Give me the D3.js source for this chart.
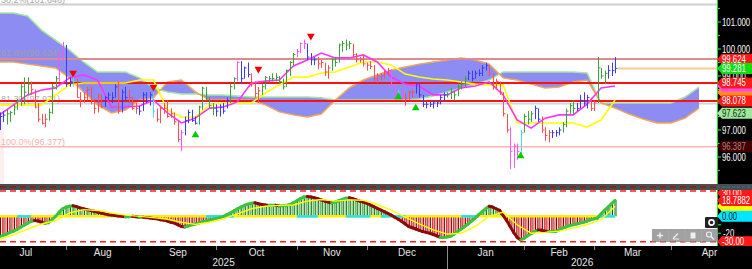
<!DOCTYPE html>
<html>
<head>
<meta charset="utf-8">
<script src="https://cdn.jsdelivr.net/npm/d3@7"></script>
<style>
  body { margin: 0; background: #fff; }
  svg { display: block; font-family: "Liberation Sans", Arial, sans-serif; }
</style>
</head>
<body>
<script>
// ---------------- data ----------------
// daily bars, first bar = Mon 7 Jul 2025 (weekdays only)
var highs = [97.65,97.7,97.75,97.7,97.95,98.15,98.7,98.95,98.95,98.8,
  98.5,98.0,97.6,97.6,97.8,98.7,99.0,99.9,100.26,100.15,
  98.95,99.1,98.9,98.4,98.4,98.6,98.6,98.15,98.35,98.3,
  98.25,98.4,98.4,98.7,98.8,98.5,98.6,98.5,98.2,98.0,
  97.9,98.4,98.4,98.4,98.4,97.8,97.9,98.0,98.1,97.8,
  97.65,97.35,97.0,97.5,97.75,97.75,97.5,97.9,98.6,98.6,
  98.2,98.0,97.95,97.95,98.0,98.2,98.7,98.95,99.55,99.55,
  99.35,99.5,99.1,98.8,98.6,98.7,99.0,99.0,99.1,99.1,
  99.0,98.9,99.25,99.55,99.85,100.0,100.25,100.35,100.2,99.85,
  99.7,99.7,99.6,99.5,99.4,99.65,99.7,100.2,100.3,100.35,
  100.3,100.2,99.85,99.7,99.8,99.5,99.55,99.4,99.1,99.1,
  99.2,99.3,99.25,98.7,98.5,98.5,98.35,98.45,98.5,98.75,
  98.7,98.3,98.05,98.05,98.1,98.1,98.3,98.4,98.4,98.55,
  98.45,98.7,98.8,99.0,99.2,99.2,99.2,99.25,99.4,99.5,
  99.4,99.1,98.9,98.8,98.4,97.6,97.1,96.5,96.5,97.0,
  97.6,97.7,97.7,97.9,97.8,97.5,97.1,97.0,97.0,97.0,
  97.1,97.3,97.8,98.0,98.1,98.0,98.3,98.4,98.3,98.2,
  98.1,99.7,99.3,99.2,99.4,99.5,99.7];
var lows = [97.0,97.3,97.2,97.3,97.55,97.75,97.9,97.95,98.3,98.3,
  97.8,97.3,97.2,97.1,97.35,97.6,98.5,98.8,99.6,98.6,
  98.6,98.6,98.2,97.85,98.0,98.1,97.95,97.6,97.65,97.8,
  97.85,98.1,98.0,98.2,97.6,97.65,98.1,98.0,97.75,97.6,
  97.55,97.7,98.0,97.9,97.45,97.3,97.25,97.6,97.45,97.45,
  97.2,96.55,96.22,96.8,97.25,97.3,97.2,97.2,97.75,98.1,
  97.8,97.55,97.5,97.5,97.6,97.8,98.0,98.5,98.8,98.7,
  98.9,98.95,98.6,98.2,98.0,98.3,98.5,98.75,98.8,98.8,
  98.7,98.5,98.6,99.0,99.4,99.7,99.85,100.0,99.6,99.4,
  99.4,99.25,99.3,99.0,98.9,99.2,99.35,99.5,99.9,99.95,
  100.0,99.7,99.5,99.5,99.35,99.2,99.25,98.8,98.75,98.85,
  98.9,99.0,98.6,98.15,98.2,98.1,97.9,98.1,98.2,98.35,
  98.2,97.85,97.8,97.85,97.8,97.85,97.95,98.1,98.2,98.15,
  98.1,98.25,98.5,98.6,98.85,98.8,98.9,99.0,99.0,99.2,
  99.0,98.5,98.5,98.3,97.5,96.9,95.55,95.6,95.9,96.1,
  96.9,97.2,97.3,97.4,97.3,96.9,96.6,96.55,96.7,96.75,
  96.8,96.9,97.1,97.6,97.6,97.7,97.8,97.9,97.8,97.7,
  97.7,98.0,98.9,98.7,98.9,99.0,99.1];
var closes = [97.5,97.55,97.6,97.65,97.85,98.1,98.6,98.4,98.7,98.5,
  97.85,97.4,97.25,97.4,97.65,98.6,98.9,99.8,99.95,98.7,
  98.8,98.8,98.2,98.1,98.2,98.5,98.1,97.8,98.3,97.85,
  98.2,98.3,98.2,98.6,97.7,98.4,98.2,98.2,97.8,97.8,
  97.7,98.3,98.1,98.3,97.7,97.4,97.8,97.8,97.5,97.6,
  97.3,96.65,96.9,97.35,97.65,97.35,97.25,97.85,98.55,98.15,
  97.9,97.8,97.7,97.85,97.7,98.1,98.6,98.9,99.5,98.9,
  99.3,99.05,98.7,98.35,98.45,98.6,98.95,98.9,98.9,98.95,
  98.8,98.6,99.2,99.5,99.8,99.9,100.2,100.2,99.7,99.6,
  99.6,99.45,99.5,99.15,99.3,99.6,99.5,100.15,100.2,100.15,
  100.2,99.8,99.6,99.6,99.45,99.4,99.35,98.9,99.0,99.0,
  99.1,99.2,98.65,98.3,98.4,98.3,98.15,98.4,98.4,98.7,
  98.3,97.95,97.95,97.95,98.0,98.0,98.2,98.3,98.3,98.4,
  98.3,98.6,98.7,98.9,99.1,98.9,99.1,99.1,99.3,99.4,
  99.1,98.6,98.8,98.4,97.6,97.0,96.2,96.4,96.2,96.9,
  97.5,97.4,97.6,97.8,97.4,97.0,96.8,96.9,96.9,96.9,
  97.0,97.2,97.7,97.9,97.8,97.8,98.1,98.0,98.2,97.8,
  98.0,99.3,99.0,99.1,99.2,99.2,99.28];
// bar colour codes: g green, r red, b blue, m magenta, c cyan
var barColors = "bbgggggggr" + "rrrrgggmmb" + "bcrrrrrrrr" + "bbbbrbbrrr" + "bbbbcrrrrr" +
  "rrmbbbbggg" + "ggbbbbggmb" + "bbrrrggggg" + "gggggmmmbb" + "brrrrggggg" +
  "grrrrrrrrr" + "rrmmcmrrrb" + "bbbbbbbbgg" + "ggggbbbbbb" + "rrrrrrmmmc" +
  "gggbbrrrbb" + "bggggbbbbr" + "rgggbbb";

// ichimoku lines, one value every 4 bars
var tenkan = [97.56,97.93,98.3,98.48,98.56,98.93,99.04,98.85,97.85,97.85,97.89,98.11,97.63,97.26,97.44,
  97.81,97.85,98.04,98.74,98.81,98.85,99.37,99.59,99.85,99.67,99.67,99.78,99.52,98.96,98.7,
  98.63,98.3,98.3,98.56,98.63,98.78,98.3,97.37,97.07,97.44,97.56,97.56,97.96,98.56,98.63];
var kijun = [97.93,97.93,97.93,97.93,98.3,98.67,98.74,98.74,98.74,98.74,98.85,98.85,97.74,97.48,97.48,
  97.93,98.0,98.0,98.0,98.37,98.67,98.96,98.96,99.11,99.15,99.33,99.52,99.52,99.41,99.07,
  98.96,98.89,98.85,98.78,98.7,98.67,98.67,97.26,97.26,97.26,97.26,97.26,97.11,97.37,98.11];
// cloud, one value every 4 bars (runs 26 bars past the last price)
var spanA = [101.33,101.33,101.22,100.70,100.33,99.96,99.52,99.15,99.15,99.15,98.93,98.56,98.41,98.33,98.33,
  98.30,98.30,98.26,98.22,98.22,98.22,98.22,98.22,98.19,98.11,98.11,98.11,98.11,98.11,98.11,
  98.15,98.26,98.41,98.56,98.70,98.85,99.15,99.15,99.15,99.15,99.15,99.15,99.11,
  98.0,98.0,98.0,98.0,98.0,98.0,98.22,98.59];
var spanB = [99.52,99.52,99.44,99.37,99.30,98.93,98.41,97.93,97.63,97.74,98.11,98.19,98.78,98.85,98.41,
  98.11,98.11,98.11,98.11,97.93,97.67,97.56,97.48,97.59,98.11,98.56,98.85,99.04,99.22,99.33,
  99.44,99.52,99.59,99.67,99.59,99.44,98.93,98.85,98.70,98.56,98.59,98.78,98.85,
  98.0,97.81,97.59,97.41,97.26,97.26,97.44,97.81];

// oscillator, one value per bar
var osc = [-24,-22.5,-21,-19,-17.5,-15.5,-13,-10.5,-8,-6,
  -5,-5.5,-7,-8,-7.5,-4,0,5,9,11,
  12,12.5,11.5,10,9,8,7,6,5,4,
  3,2,1.5,1,0.5,0,-0.5,-0.5,0,-0.5,
  -1,-1,-1.5,-2,-2.5,-3,-4,-4.5,-5.5,-7,
  -8,-10,-12,-12.5,-11.5,-10,-9,-8,-6.5,-5.5,
  -4.5,-3.5,-2.5,-1.5,0,2,4,6.5,9,11,
  13,14.5,15.5,16,15,14,13.5,13,13,13,
  12.5,12.5,13,14,16,18.5,21,23,23.5,23,
  22,21,19.5,18,17,16,17,18.5,20,21.5,
  22,21,19.5,18,17,15.5,13.5,11.5,9.5,7.5,
  5.5,3.5,1.5,-1,-3.5,-6,-9,-12,-13.5,-15,
  -16.5,-18,-19,-20,-21.5,-23,-25,-25,-24.5,-23.5,
  -21,-18,-15,-12,-9,-5.5,-2,2,5.5,9,
  12,11,9,7,1,-5,-12,-19,-25,-28,
  -26,-23,-20.5,-18,-16,-16.5,-17.5,-18,-18,-18,
  -16,-14,-12.5,-11,-10,-9,-8,-7,-5.5,-4,
  -3,-2,3,7,11,15,18.8];
// signal line, one value every 4 bars
var signal = [-27,-22,-15,-9,-5,4,8,7,4,1.5,0,-1.5,-3.5,-7,-9.5,-7,-3,3,9,12,13,13.5,18,20,18,
  19.5,19,14,7,-1,-9,-16,-21,-20,-12,0,5,-10,-20,-19,-17.5,-14,-10,-4,12];
// bar ranges where the zero line is drawn cyan
var zeroCyan = [[5,9],[59,67],[85,91],[99,106],[109,116],[132,137],[171,176]];

// signal arrows: [bar, price]
var sellMarks = [[21,99.11],[44,98.59],[74,99.26],[89,100.48]];
var buyMarks = [[56,96.81],[114,98.22],[119,97.81],[149,96.04]];

// horizontal levels
var fibLevels = [101.646, 97.971, 96.377];
var fibLabels = ["38.2%(101.646)", "81.3%(97.971)", "100.0%(96.377)"];
var fib618 = 99.634;
var redLevels = [98.745, 98.078];
var lastPrice = 99.281;

var STEP = 4;

// ---------------- layout ----------------
var W = 752, H = 269, plotR = 717;
var svg = d3.select("body").append("svg").attr("width", W).attr("height", H);

// trading-day calendar (weekdays) from 1 Jul 2025, bars start 4 days later
var dates = [];
var dd = new Date(2025, 6, 1);
while (dates.length < 240) {
  if (dd.getDay() % 6 !== 0) dates.push(new Date(dd));
  dd.setDate(dd.getDate() + 1);
}
var OFF = 4;

var x = d3.scaleLinear().domain([0, 205]).range([-0.4, -0.4 + 3.497 * 205]);
var y = d3.scaleLinear().domain([95, 102]).range([184, -5]);
var yo = d3.scaleLinear().domain([-30, 30]).range([241.7, 191]);

var defs = svg.append("defs");
defs.append("clipPath").attr("id", "clipMain").append("rect")
  .attr("x", 0).attr("y", 0).attr("width", plotR).attr("height", 184);
defs.append("clipPath").attr("id", "clipLow").append("rect")
  .attr("x", 0).attr("y", 190).attr("width", plotR).attr("height", 56);

svg.append("rect").attr("width", W).attr("height", H).attr("fill", "#fff");

var main = svg.append("g").attr("clip-path", "url(#clipMain)");

// faint zone at the left edge
main.append("rect").attr("x", 0).attr("y", y(fibLevels[1])).attr("width", 4)
  .attr("height", 184 - y(fibLevels[1])).attr("fill", "#fff0f0");

// fib lines + labels
var fibColors = ["#cfcfcf", "#d4d4d4", "#ffb4b4"];
var fibText = ["#a8a8a8", "#b0b0b0", "#f4b0b0"];
fibLevels.forEach(function(v, k) {
  main.append("line").attr("x1", 0).attr("x2", plotR)
    .attr("y1", y(v)).attr("y2", y(v))
    .attr("stroke", fibColors[k]).attr("stroke-width", k === 0 ? 2 : 1.5);
  main.append("text").attr("x", 1).attr("y", y(v) - 2)
    .attr("font-size", 9).attr("fill", fibText[k]).text(fibLabels[k]);
});

// ichimoku cloud
var cloud = d3.area()
  .x(function(d, k) { return x(k * STEP); })
  .y0(function(d, k) { return y(spanA[k]); })
  .y1(function(d, k) { return y(spanB[k]); });
main.append("path").datum(spanA).attr("d", cloud).attr("fill", "#8c8cf2");
var lineAt = function(arr) {
  return d3.line().x(function(d, k) { return x(k * STEP); }).y(function(d) { return y(d); })(arr);
};
main.append("path").attr("d", lineAt(spanA)).attr("fill", "none")
  .attr("stroke", "#a6e6a0").attr("stroke-width", 1.5);
main.append("path").attr("d", lineAt(spanB)).attr("fill", "none")
  .attr("stroke", "#f2a65a").attr("stroke-width", 1.5);

// 61.8% line and red levels
main.append("line").attr("x1", 0).attr("x2", plotR).attr("y1", y(fib618)).attr("y2", y(fib618))
  .attr("stroke", "#dc8c8c").attr("stroke-width", 2);
main.append("text").attr("x", 1).attr("y", y(fib618) - 3)
  .attr("font-size", 9).attr("fill", "#a0a0a0").text("61.8%(99.634)");
redLevels.forEach(function(v) {
  main.append("line").attr("x1", 0).attr("x2", plotR).attr("y1", y(v)).attr("y2", y(v))
    .attr("stroke", "#ff1010").attr("stroke-width", 2);
});

// tenkan / kijun
main.append("path").attr("d", lineAt(kijun)).attr("fill", "none")
  .attr("stroke", "#ffff00").attr("stroke-width", 1.6);
main.append("path").attr("d", lineAt(tenkan)).attr("fill", "none")
  .attr("stroke", "#ff33ff").attr("stroke-width", 1.6);

// price bars
var colorOf = { g: "#3aa33a", r: "#ff4d4d", b: "#3b3bff", m: "#ff55ff", c: "#44ddf4" };
var bars = main.append("g");
closes.forEach(function(c, i) {
  var xi = Math.round(x(i)) + 0.5;
  var col = colorOf[barColors[i]];
  bars.append("line").attr("x1", xi).attr("x2", xi)
    .attr("y1", y(highs[i])).attr("y2", y(lows[i]))
    .attr("stroke", col).attr("stroke-width", 1);
  bars.append("line").attr("x1", xi).attr("x2", xi + 2)
    .attr("y1", y(c)).attr("y2", y(c))
    .attr("stroke", col).attr("stroke-width", 1);
});

// last price line
main.append("line").attr("x1", x(closes.length - 1) + 3).attr("x2", plotR)
  .attr("y1", y(lastPrice)).attr("y2", y(lastPrice))
  .attr("stroke", "#f7cb92").attr("stroke-width", 2);

// arrows
var tri = d3.symbol().type(d3.symbolTriangle).size(26);
sellMarks.forEach(function(m) {
  main.append("path").attr("d", tri())
    .attr("transform", "translate(" + x(m[0]) + "," + y(m[1]) + ") rotate(180)")
    .attr("fill", "#ee0000");
});
buyMarks.forEach(function(m) {
  main.append("path").attr("d", tri())
    .attr("transform", "translate(" + x(m[0]) + "," + y(m[1]) + ")")
    .attr("fill", "#00cc00");
});

// ---------------- lower panel ----------------
var low = svg.append("g").attr("clip-path", "url(#clipLow)");
[30, -30].forEach(function(v) {
  low.append("line").attr("x1", 0).attr("x2", plotR).attr("y1", yo(v)).attr("y2", yo(v))
    .attr("stroke", "#ff2020").attr("stroke-width", 1.5).attr("stroke-dasharray", "6,4");
});

// histogram
osc.forEach(function(v, i) {
  var xi = x(i);
  var up = v >= 0;
  low.append("line").attr("x1", xi - 0.7).attr("x2", xi - 0.7).attr("y1", yo(0)).attr("y2", yo(v))
    .attr("stroke", up ? "#46c846" : "#ff2a2a").attr("stroke-width", 1);
  low.append("line").attr("x1", xi + 0.9).attr("x2", xi + 0.9).attr("y1", yo(0)).attr("y2", yo(v))
    .attr("stroke", up ? "#0a5a0a" : "#7a0000").attr("stroke-width", 1);
});

// zero line, yellow with cyan stretches
low.append("line").attr("x1", 0).attr("x2", x(osc.length - 1)).attr("y1", yo(0)).attr("y2", yo(0))
  .attr("stroke", "#ffee00").attr("stroke-width", 2.5);
zeroCyan.forEach(function(r) {
  low.append("line").attr("x1", x(r[0])).attr("x2", x(r[1])).attr("y1", yo(0)).attr("y2", yo(0))
    .attr("stroke", "#22e0f0").attr("stroke-width", 2.5);
});

// oscillator line, green when rising, dark red when falling
for (var i = 1; i < osc.length; i++) {
  low.append("line").attr("x1", x(i - 1)).attr("x2", x(i))
    .attr("y1", yo(osc[i - 1])).attr("y2", yo(osc[i]))
    .attr("stroke", osc[i] >= osc[i - 1] ? "#3cc23c" : "#8b0a0a")
    .attr("stroke-width", 3).attr("stroke-linecap", "round");
}
low.append("path")
  .attr("d", d3.line().x(function(d, k) { return x(k * STEP); }).y(function(d) { return yo(d); })(signal))
  .attr("fill", "none").attr("stroke", "#ffff00").attr("stroke-width", 1.4);

// ---------------- frame ----------------
// right axis column
svg.append("rect").attr("x", plotR).attr("y", 0).attr("width", W - plotR).attr("height", 246).attr("fill", "#000");

// narrow axis text (squeezed horizontally like the terminal font)
function axisLabel(xx, yy, txt, fg) {
  svg.append("text")
    .attr("transform", "translate(" + xx + "," + (yy + 3.6) + ") scale(0.78,1)")
    .attr("font-size", 10).attr("fill", fg).text(txt);
}
function tag(yy, txt, bg, fg) {
  svg.append("path")
    .attr("d", "M" + plotR + "," + yy + " L" + (plotR + 5) + "," + (yy - 5.5) + " L" + W + "," + (yy - 5.5) +
      " L" + W + "," + (yy + 5.5) + " L" + (plotR + 5) + "," + (yy + 5.5) + " Z")
    .attr("fill", bg);
  if (txt) axisLabel(plotR + 5, yy, txt, fg);
}

svg.append("line").attr("x1", plotR + 0.5).attr("x2", plotR + 0.5).attr("y1", 0).attr("y2", 184)
  .attr("stroke", "#22dd22").attr("stroke-width", 1);
svg.append("line").attr("x1", plotR + 0.5).attr("x2", plotR + 0.5).attr("y1", 190).attr("y2", 246)
  .attr("stroke", "#22dd22").attr("stroke-width", 1);
d3.range(95.5, 102, 0.5).forEach(function(v) {
  svg.append("line").attr("x1", plotR).attr("x2", plotR + (v % 1 === 0 ? 4 : 3))
    .attr("y1", y(v)).attr("y2", y(v)).attr("stroke", "#22dd22").attr("stroke-width", 1.2);
});
[96, 97, 99, 100, 101].forEach(function(v) { axisLabel(plotR + 5, y(v), v.toFixed(3), "#fff"); });

// tags hidden underneath others show only their colour
tag(y(98.40), null, "#ff8c1a", "#402000");
tag(y(tenkan[tenkan.length - 1]), null, "#ff44ff", "#fff");
tag(y(99.624), "99.624", "#ff1a1a", "#fff");
tag(y(lastPrice), "99.281", "#11dd11", "#fff");
tag(y(98.745), "98.745", "#ff1a1a", "#fff");
tag(y(98.078), "98.078", "#ff1a1a", "#fff");
tag(y(97.623), "97.623", "#9de89d", "#0a300a");
tag(y(96.387), "96.387", "#420000", "#b08080");

// lower axis
[-20, -10, 10, 20].forEach(function(v) {
  svg.append("line").attr("x1", plotR).attr("x2", plotR + 4).attr("y1", yo(v)).attr("y2", yo(v))
    .attr("stroke", "#22dd22").attr("stroke-width", 1.2);
});
tag(yo(30) + 2, "30.00", "#ff1a1a", "#fff");
tag(yo(12), null, "#ffff00", "#333");
tag(yo(osc[osc.length - 1]), "18.7882", "#ff1a1a", "#fff");
tag(yo(0), "0.00", "#00e6ff", "#002030");
axisLabel(plotR + 6, yo(-20), "-20", "#fff");
tag(yo(-30), "-30.00", "#ff1a1a", "#fff");

// divider between panels
svg.append("rect").attr("x", 0).attr("y", 184).attr("width", W).attr("height", 6).attr("fill", "#4d4d4d");
svg.append("line").attr("x1", 0).attr("x2", plotR).attr("y1", 187).attr("y2", 187)
  .attr("stroke", "#8b1a1a").attr("stroke-width", 1.5).attr("stroke-dasharray", "6,4");
svg.append("line").attr("x1", plotR).attr("x2", W).attr("y1", 187).attr("y2", 187)
  .attr("stroke", "#2a6f8f").attr("stroke-width", 1.5).attr("stroke-dasharray", "3,2");

// toolbar overlay
var tb = svg.append("g");
tb.append("rect").attr("x", 705).attr("y", 217).attr("width", 13).attr("height", 11).attr("rx", 1).attr("fill", "#222");
tb.append("circle").attr("cx", 711.5).attr("cy", 222.5).attr("r", 2.6).attr("fill", "none")
  .attr("stroke", "#fff").attr("stroke-width", 1.6);
tb.append("rect").attr("x", 652).attr("y", 229).attr("width", 66).attr("height", 13)
  .attr("fill", "#8a8a8a").attr("fill-opacity", 0.8);
[668.5, 685, 701.5].forEach(function(sx) {
  tb.append("line").attr("x1", sx).attr("x2", sx).attr("y1", 229).attr("y2", 242)
    .attr("stroke", "#a8a8a8").attr("stroke-width", 1);
});
tb.append("path").attr("d", "M657,235.5 h6 M660,232.5 v6").attr("stroke", "#eee").attr("stroke-width", 1.4);
tb.append("path").attr("d", "M673,238.5 l5,-5 M673,239 h6").attr("stroke", "#eee").attr("stroke-width", 1.2);
tb.append("rect").attr("x", 690.5).attr("y", 232.5).attr("width", 5).attr("height", 6).attr("fill", "#eee");
tb.append("circle").attr("cx", 709).attr("cy", 234.5).attr("r", 2.5).attr("fill", "none")
  .attr("stroke", "#eee").attr("stroke-width", 1.2);
tb.append("path").attr("d", "M711,236.5 l3,3").attr("stroke", "#eee").attr("stroke-width", 1.4);

// ---------------- x axis ----------------
svg.append("rect").attr("x", 0).attr("y", 246).attr("width", W).attr("height", H - 246).attr("fill", "#000");
var monthStarts = [];
dates.forEach(function(d, j) {
  if (j === 0 || d.getMonth() !== dates[j - 1].getMonth()) monthStarts.push(j);
});
var fmt = d3.timeFormat("%b");
var janX = null;
for (var k = 0; k < monthStarts.length - 1; k++) {
  var j0 = monthStarts[k], j1 = monthStarts[k + 1];
  var xs = x(j0 - OFF), xe = x(j1 - OFF);
  var mid = (xs + xe) / 2;
  if (mid > plotR) break;
  var isJan = dates[j0].getMonth() === 0;
  if (isJan) janX = xs;
  if (k > 0) {
    svg.append("line").attr("x1", Math.round(xs) + 0.5).attr("x2", Math.round(xs) + 0.5)
      .attr("y1", 246).attr("y2", isJan ? 269 : 250)
      .attr("stroke", "#8c8c8c").attr("stroke-width", 1);
  }
  svg.append("text").attr("x", mid).attr("y", 256).attr("text-anchor", "middle")
    .attr("font-size", 10).attr("fill", "#e6e6e6").text(fmt(dates[j0]));
}
svg.append("text").attr("x", janX / 2).attr("y", 266).attr("text-anchor", "middle")
  .attr("font-size", 10).attr("fill", "#e6e6e6").text("2025");
svg.append("text").attr("x", (janX + plotR) / 2).attr("y", 266).attr("text-anchor", "middle")
  .attr("font-size", 10).attr("fill", "#e6e6e6").text("2026");
</script>
</body>
</html>
